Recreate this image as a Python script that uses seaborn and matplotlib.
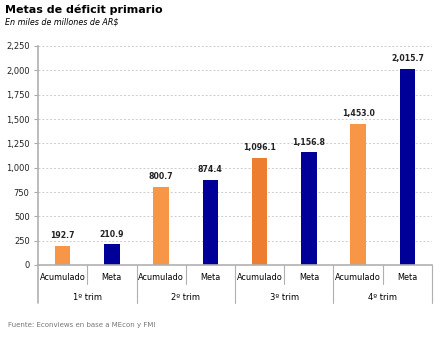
import matplotlib
matplotlib.use("Agg")
import matplotlib.pyplot as plt
import matplotlib.transforms as mtransforms
import seaborn as sns
import pandas as pd

trimestres = ["1º trim", "2º trim", "3º trim", "4º trim"]
series = ["Acumulado", "Meta"]
acumulado = [192.7, 800.7, 1096.1, 1453.0]
meta = [210.9, 874.4, 1156.8, 2015.7]
yticks = [0, 250, 500, 750, 1000, 1250, 1500, 1750, 2000, 2250]

rows = []
for i, t in enumerate(trimestres):
    rows.append({"pos": f"{t} Acumulado", "serie": "Acumulado", "valor": acumulado[i]})
    rows.append({"pos": f"{t} Meta", "serie": "Meta", "valor": meta[i]})
df = pd.DataFrame(rows)

orange = "#F79646"
orange_dark = "#ED7D31"
blue = "#000099"
colors = [orange, blue, orange, blue, orange_dark, blue, orange, blue]

sns.set_theme(style="white")
plt.rcParams["font.family"] = ["DejaVu Sans"]

fig = plt.figure(figsize=(4.43, 3.40), dpi=100)
ax = fig.add_axes([38/443, (340-265)/340, (432-38)/443, (265-46)/340])

sns.barplot(data=df, x="pos", y="valor", hue="pos", palette=colors,
            legend=False, width=0.31, ax=ax, saturation=1, edgecolor="none")

ax.set_ylim(0, 2250)
ax.set_xlim(-0.5, len(df) - 0.5)
ax.set_yticks(yticks)
ax.set_yticklabels([f"{v:,}" for v in yticks], fontsize=6.0, color="#222222")
ax.yaxis.grid(True, linestyle=(0, (2, 2)), color="#cccccc", linewidth=0.7)
ax.set_axisbelow(True)
ax.set_xlabel("")
ax.set_ylabel("")
ax.tick_params(axis="y", length=3, width=0.8, color="#aaaaaa", pad=3, left=True)
ax.tick_params(axis="x", length=0, pad=6)
ax.set_xticks(range(len(df)))
ax.set_xticklabels(df["serie"], fontsize=5.9, color="#000000")

for s in ["top", "right"]:
    ax.spines[s].set_visible(False)
for s in ["left", "bottom"]:
    ax.spines[s].set_color("#b0b0b0")
    ax.spines[s].set_linewidth(1.2)

# value labels
for i, v in enumerate(df["valor"]):
    ax.text(i, v + 60, f"{v:,.1f}", ha="center", va="bottom", fontsize=5.6,
            fontweight="bold", color="#222222")

# category separators
trans = mtransforms.blended_transform_factory(ax.transData, ax.transAxes)
sep_color = "#b0b0b0"
for k in range(1, len(df) + 1):
    x = k - 0.5
    ymin = -0.172 if k % 2 == 0 else -0.087
    ax.plot([x, x], [0, ymin], transform=trans, color=sep_color, lw=0.8,
            clip_on=False)
ax.plot([-0.5, -0.5], [0, -0.172], transform=trans, color=sep_color, lw=1.2,
        clip_on=False)

for i, t in enumerate(trimestres):
    ax.text(2 * i + 0.5, -0.147, t, transform=trans, ha="center", va="center",
            fontsize=6.0, color="#000000")

fig.text(5/443, 1 - 10/340, "Metas de déficit primario", fontsize=8.0,
         fontweight="bold", va="center", ha="left", color="#000000")
fig.text(5/443, 1 - 22/340, "En miles de millones de AR$", fontsize=5.8,
         style="italic", va="center", ha="left", color="#000000")
fig.text(8/443, 1 - 325/340, "Fuente: Econviews en base a MEcon y FMI",
         fontsize=5.0, va="center", ha="left", color="#777777")

fig.savefig("out.png", dpi=100)
